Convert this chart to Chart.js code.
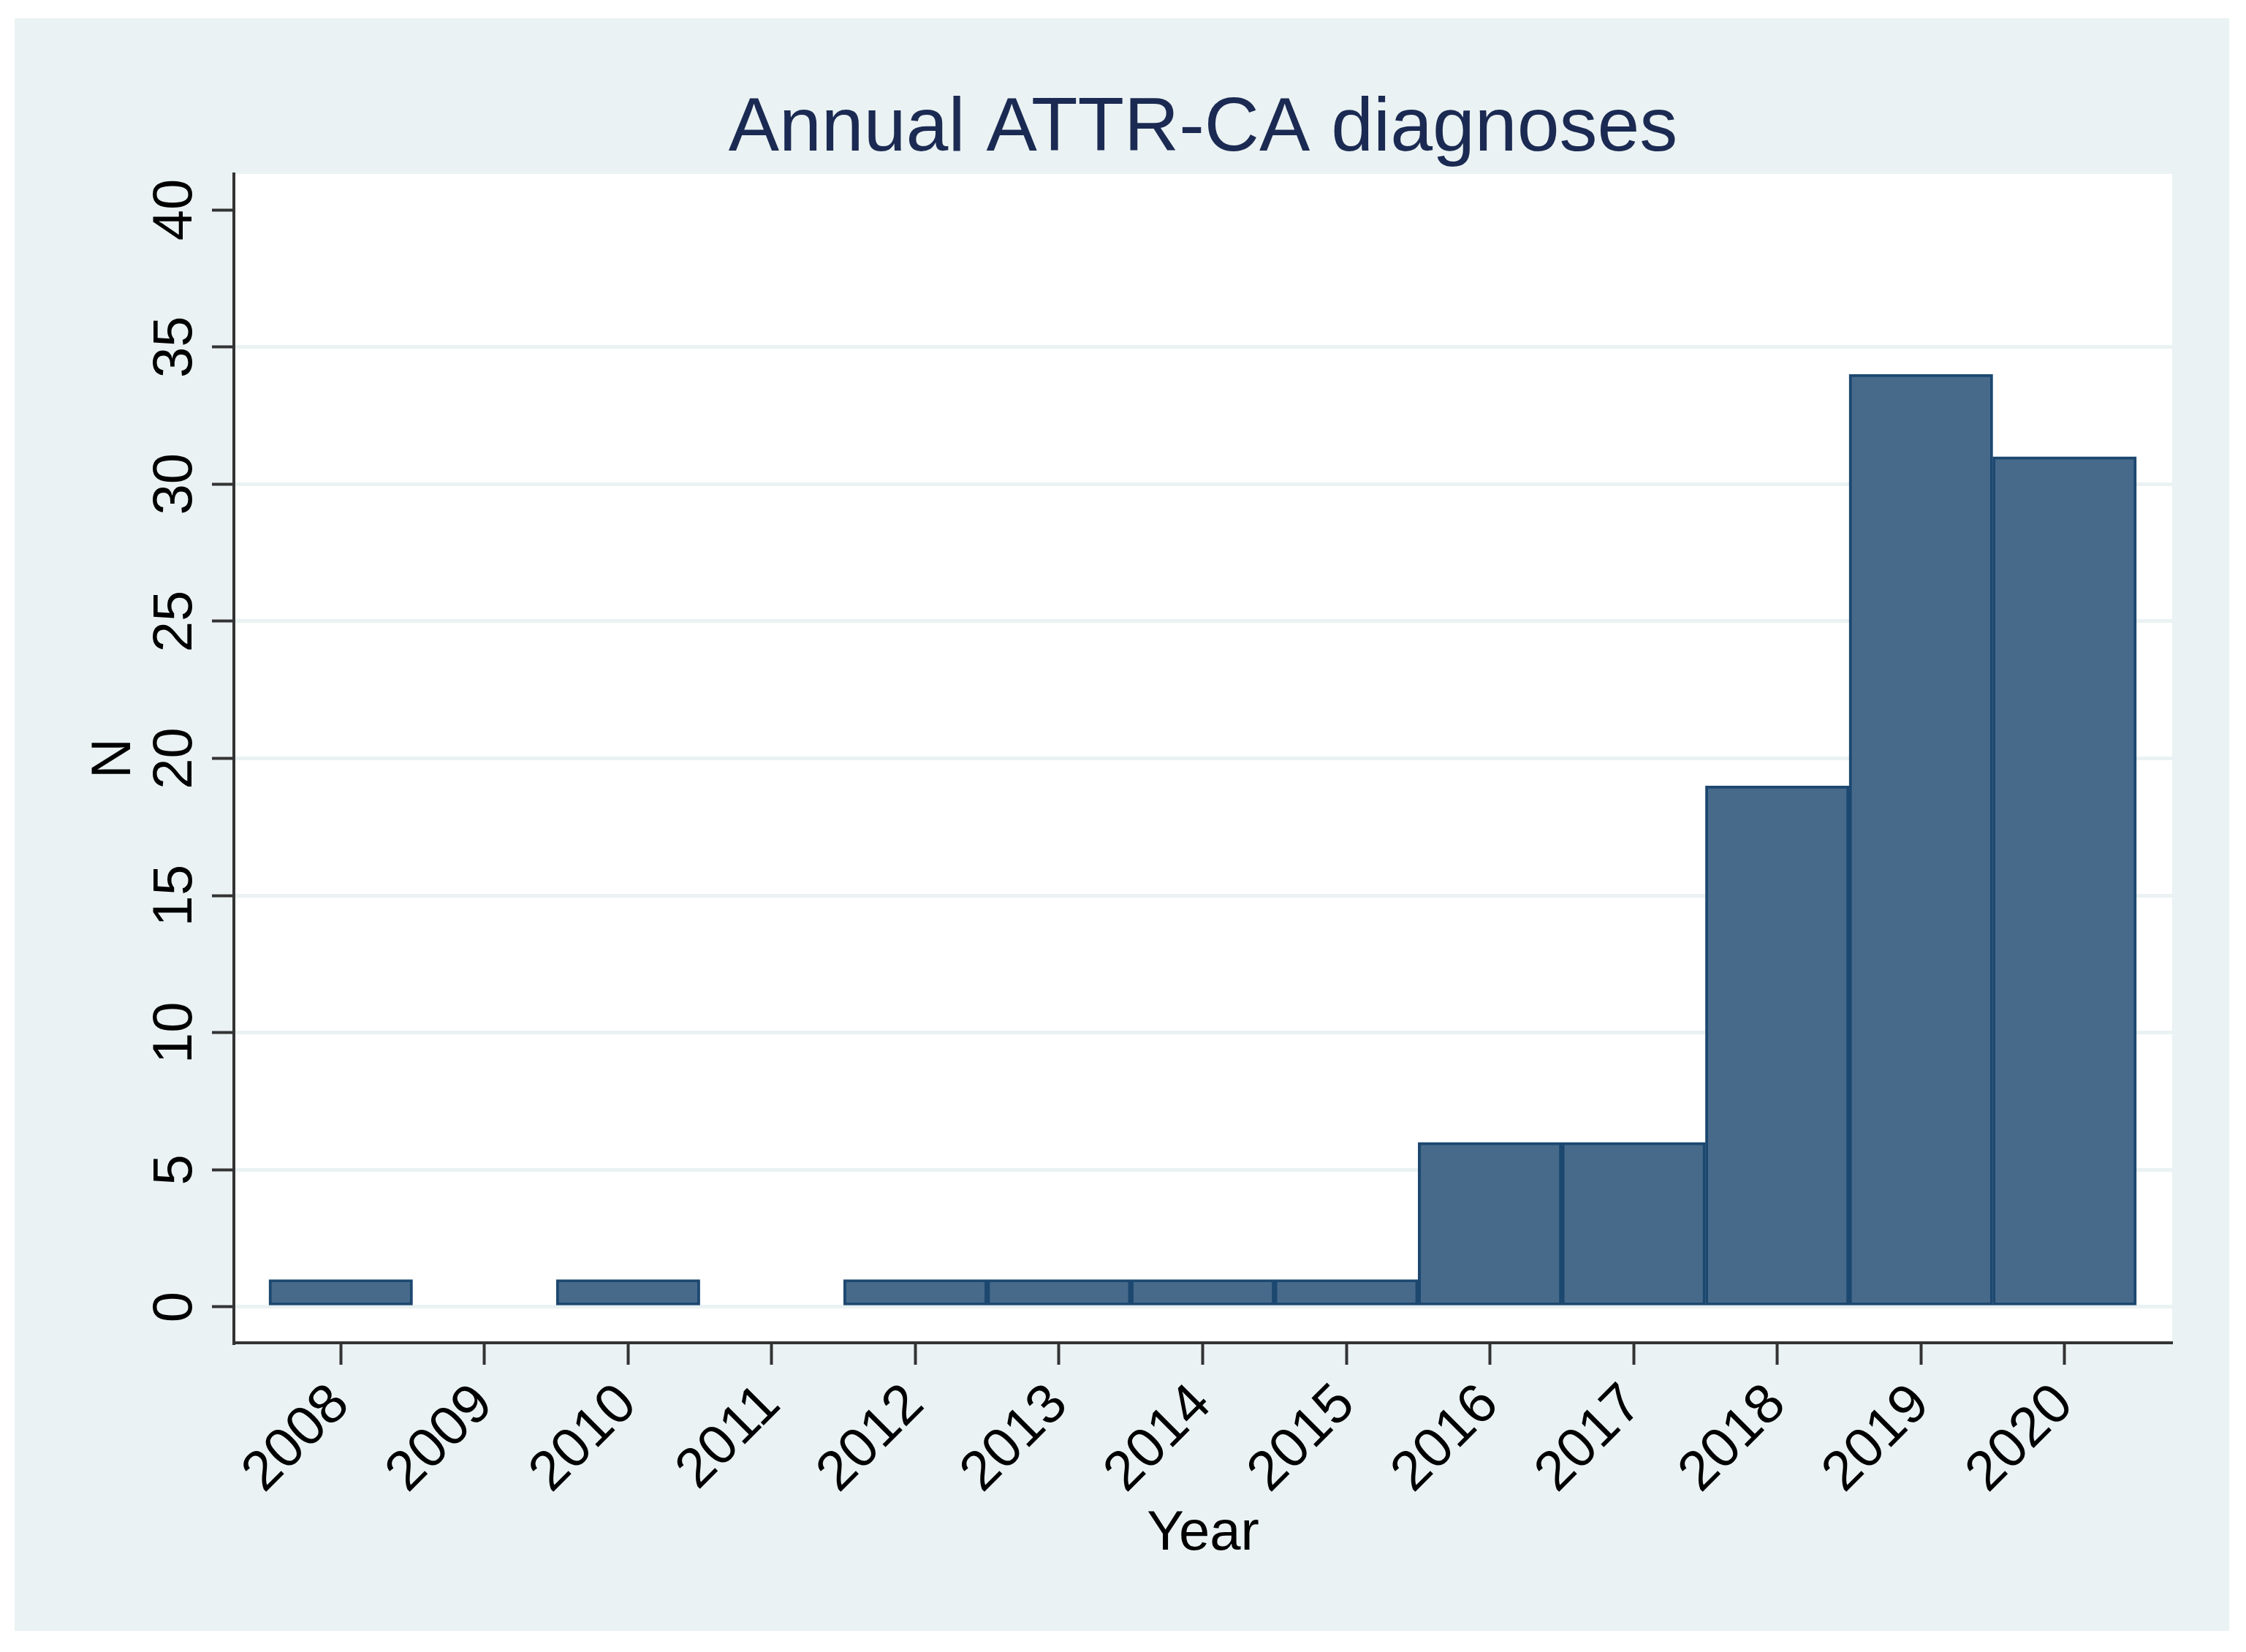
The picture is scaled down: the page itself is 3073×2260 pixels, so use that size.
<!DOCTYPE html>
<html>
<head>
<meta charset="utf-8">
<title>Annual ATTR-CA diagnoses</title>
<script src="https://cdn.jsdelivr.net/npm/chart.js@4.4.0/dist/chart.umd.min.js"></script>
<style>
    html, body { margin: 0; padding: 0; background: #ffffff; }
    #wrap { width: 3073px; height: 2260px; }
</style>
</head>
<body>
<div id="wrap"><canvas id="myChart" width="3073" height="2260"></canvas></div>
<script>
// data
const years = [2008, 2009, 2010, 2011, 2012, 2013, 2014, 2015, 2016, 2017, 2018, 2019, 2020];
const counts = [1, 0, 1, 0, 1, 1, 1, 1, 6, 6, 19, 34, 31];
const chartTitle = 'Annual ATTR-CA diagnoses';
const xTitle = 'Year';
const yTitle = 'N';

const FONT = '"Liberation Sans", Arial, sans-serif';

// backgrounds, rotated y labels and titles
const stataLook = {
    id: 'stataLook',
    beforeDraw(chart) {
        const ctx = chart.ctx;
        const a = chart.chartArea;
        ctx.save();
        ctx.fillStyle = '#eaf2f3';
        ctx.fillRect(20, 25, 3030, 2206);
        ctx.fillStyle = '#ffffff';
        ctx.fillRect(a.left, a.top, a.right - a.left, a.bottom - a.top);
        ctx.restore();
    },
    afterDraw(chart) {
        const ctx = chart.ctx;
        const a = chart.chartArea;
        const y = chart.scales.y;
        const midX = (a.left + a.right) / 2;
        const midY = (a.top + a.bottom) / 2;
        ctx.save();
        ctx.fillStyle = '#000000';
        ctx.font = '76px ' + FONT;
        ctx.textAlign = 'center';
        ctx.textBaseline = 'alphabetic';
        y.ticks.forEach(t => {
            ctx.save();
            ctx.translate(262, y.getPixelForValue(t.value));
            ctx.rotate(-Math.PI / 2);
            ctx.fillText(String(t.value), 0, 0);
            ctx.restore();
        });
        // axis titles
        ctx.save();
        ctx.translate(178, midY);
        ctx.rotate(-Math.PI / 2);
        ctx.fillText(yTitle, 0, 0);
        ctx.restore();
        ctx.fillText(xTitle, midX, 2120);
        // main title
        ctx.fillStyle = '#1b2a52';
        ctx.font = '104px ' + FONT;
        ctx.fillText(chartTitle, midX, 206);
        ctx.restore();
    }
};

const ctx = document.getElementById('myChart').getContext('2d');
const myChart = new Chart(ctx, {
    type: 'bar',
    data: {
        datasets: [{
            label: yTitle,
            data: years.map((yr, i) => ({ x: yr, y: counts[i] || null })),
            backgroundColor: '#476a8b',
            borderColor: '#1c4870',
            borderWidth: 4,
            borderSkipped: false,
            barPercentage: 1,
            categoryPercentage: 1
        }]
    },
    options: {
        responsive: false,
        devicePixelRatio: 1,
        animation: false,
        layout: { padding: { left: 0, right: 101, top: 238, bottom: 0 } },
        plugins: {
            legend: { display: false },
            tooltip: { enabled: false }
        },
        scales: {
            x: {
                type: 'linear',
                min: 2007.256,
                max: 2020.749,
                offset: false,
                grid: {
                    offset: false,
                    drawOnChartArea: false,
                    drawTicks: true,
                    tickLength: 30,
                    tickColor: '#333333',
                    tickWidth: 4
                },
                border: { color: '#333333', width: 4 },
                ticks: {
                    stepSize: 1,
                    includeBounds: false,
                    autoSkip: false,
                    maxTicksLimit: 20,
                    minRotation: 45,
                    maxRotation: 45,
                    padding: 10,
                    color: '#000000',
                    font: { family: FONT, size: 76 },
                    callback: v => String(v)
                },
                afterFit: scale => { scale.height = 2260 - 1837; }
            },
            y: {
                min: -1.306,
                max: 41.306,
                grid: {
                    // no gridline on the top label
                    color: c => {
                        const t = c.scale.ticks;
                        return c.tick && c.tick.value === t[t.length - 1].value ? 'rgba(0,0,0,0)' : '#eaf2f3';
                    },
                    lineWidth: 5,
                    drawTicks: true,
                    tickLength: 30,
                    tickColor: '#333333',
                    tickWidth: 4
                },
                border: { color: '#333333', width: 4 },
                ticks: {
                    stepSize: 5,
                    includeBounds: false,
                    display: false
                },
                afterFit: scale => { scale.width = 320; }
            }
        }
    },
    plugins: [stataLook]
});
</script>
</body>
</html>
